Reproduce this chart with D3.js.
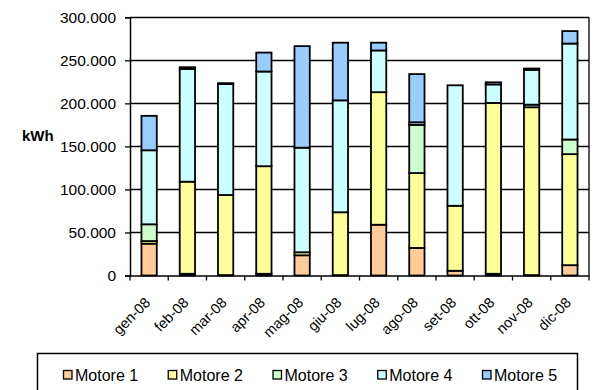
<!DOCTYPE html>
<html>
<head>
<meta charset="utf-8">
<script src="https://cdn.jsdelivr.net/npm/d3@7"></script>
<style>
  html, body { margin: 0; padding: 0; background: #fff; }
  svg { display: block; font-family: "Liberation Sans", Arial, sans-serif; }
</style>
</head>
<body>
<svg id="chart" width="602" height="390"></svg>
<script>
// Monthly energy consumption per motor (kWh), 2008
const months = ["gen-08", "feb-08", "mar-08", "apr-08", "mag-08", "giu-08",
                "lug-08", "ago-08", "set-08", "ott-08", "nov-08", "dic-08"];
const seriesNames = ["Motore 1", "Motore 2", "Motore 3", "Motore 4", "Motore 5"];
const motore1 = [37000, 2000, 500, 2000, 23500, 500, 59000, 32000, 5500, 2000, 500, 12000];
const motore2 = [3000, 107000, 93000, 125000, 3500, 73000, 154000, 87000, 75500, 198500, 195000, 129000];
const motore3 = [19500, 0, 0, 0, 0, 0, 0, 56000, 0, 0, 3000, 17000];
const motore4 = [86000, 131000, 129000, 110000, 121500, 130000, 48500, 3000, 140000, 21500, 40500, 111500];
const motore5 = [40000, 2000, 1000, 22000, 118000, 67000, 9000, 56000, 0, 2500, 1500, 14500];
const yTicks = [0, 50000, 100000, 150000, 200000, 250000, 300000];
const colors = ["#FFCC99", "#FFFF99", "#CCFFCC", "#CCFFFF", "#99CCFF"];

const seriesValues = [motore1, motore2, motore3, motore4, motore5];
const table = months.map((m, i) => {
  const row = { month: m };
  seriesNames.forEach((s, k) => { row[s] = seriesValues[k][i]; });
  return row;
});

const svg = d3.select("#chart");
const plot = { left: 130, right: 589, top: 17.3, bottom: 275.5 };

const x = d3.scaleBand()
  .domain(months)
  .range([plot.left, plot.right])
  .paddingInner(0.6)
  .paddingOuter(0.3);

const y = d3.scaleLinear()
  .domain([0, 300000])
  .range([plot.bottom, plot.top]);

const itLocale = d3.formatLocale({ decimal: ",", thousands: ".", grouping: [3], currency: ["€", ""] });
const fmt = itLocale.format(",d");

// Horizontal gridlines
svg.append("g")
  .selectAll("line")
  .data(yTicks.filter(t => t > 0))
  .join("line")
  .attr("x1", plot.left).attr("x2", plot.right)
  .attr("y1", d => Math.round(y(d)) + 0.5).attr("y2", d => Math.round(y(d)) + 0.5)
  .attr("stroke", "#000").attr("stroke-width", 1.3);

// Plot frame (right side)
svg.append("line")
  .attr("x1", plot.right).attr("x2", plot.right)
  .attr("y1", y(300000)).attr("y2", plot.bottom)
  .attr("stroke", "#000").attr("stroke-width", 1.3);

// Stacked bars
const stack = d3.stack().keys(seriesNames);
const layers = stack(table);

svg.append("g")
  .selectAll("g")
  .data(layers)
  .join("g")
  .attr("fill", (d, i) => colors[i])
  .selectAll("rect")
  .data(d => d.filter(p => p[1] - p[0] > 0))
  .join("rect")
  .attr("x", d => x(d.data.month))
  .attr("width", x.bandwidth())
  .attr("y", d => y(d[1]))
  .attr("height", d => y(d[0]) - y(d[1]))
  .attr("stroke", "#000")
  .attr("stroke-width", 1.8);

// Y axis
const yAxis = d3.axisLeft(y)
  .tickValues(yTicks)
  .tickSize(5)
  .tickPadding(9)
  .tickFormat(d => fmt(d));

const gy = svg.append("g")
  .attr("transform", `translate(${plot.left},0)`)
  .call(yAxis);
gy.select(".domain").attr("stroke", "#000").attr("stroke-width", 1.5);
gy.selectAll(".tick line").attr("stroke", "#000").attr("stroke-width", 1.3);
gy.selectAll(".tick text")
  .attr("fill", "#000")
  .style("font-size", "15.5px")
  .style("font-family", "'Liberation Sans', Arial, sans-serif");

// X axis with ticks between categories
const xAxis = d3.axisBottom(x).tickSize(0).tickPadding(0);
const gx = svg.append("g")
  .attr("transform", `translate(0,${plot.bottom})`)
  .call(xAxis);
gx.select(".domain").attr("stroke", "#000").attr("stroke-width", 1.5);
gx.selectAll(".tick text")
  .attr("fill", "#000")
  .attr("text-anchor", "end")
  .attr("transform", "translate(2,28) rotate(-45)")
  .attr("dy", "0")
  .attr("y", 0)
  .style("font-size", "14.5px")
  .style("font-family", "'Liberation Sans', Arial, sans-serif");

const step = x.step();
const boundaries = d3.range(months.length + 1).map(i => plot.left + i * step);
gx.append("g")
  .selectAll("line")
  .data(boundaries)
  .join("line")
  .attr("x1", d => d).attr("x2", d => d)
  .attr("y1", 0).attr("y2", 5)
  .attr("stroke", "#000").attr("stroke-width", 1.3);

// Unit label
svg.append("text")
  .attr("x", 22).attr("y", 140.5)
  .attr("font-weight", "bold")
  .style("font-size", "15px")
  .attr("fill", "#000")
  .text("kWh");

// Legend
const legend = svg.append("g");
legend.append("rect")
  .attr("x", 37.5).attr("y", 353.5)
  .attr("width", 540).attr("height", 60)
  .attr("fill", "#fff").attr("stroke", "#000").attr("stroke-width", 1.5);

const legendX = d3.scalePoint().domain(seriesNames).range([63, 482]);
const items = legend.selectAll("g.item")
  .data(seriesNames)
  .join("g")
  .attr("class", "item")
  .attr("transform", d => `translate(${legendX(d)},0)`);
items.append("rect")
  .attr("x", 0.5).attr("y", 370.5)
  .attr("width", 8.5).attr("height", 8.5)
  .attr("fill", (d, i) => colors[i])
  .attr("stroke", "#000").attr("stroke-width", 1.3);
items.append("text")
  .attr("x", 12).attr("y", 380.5)
  .style("font-size", "16px")
  .attr("fill", "#000")
  .text(d => d);
</script>
</body>
</html>
